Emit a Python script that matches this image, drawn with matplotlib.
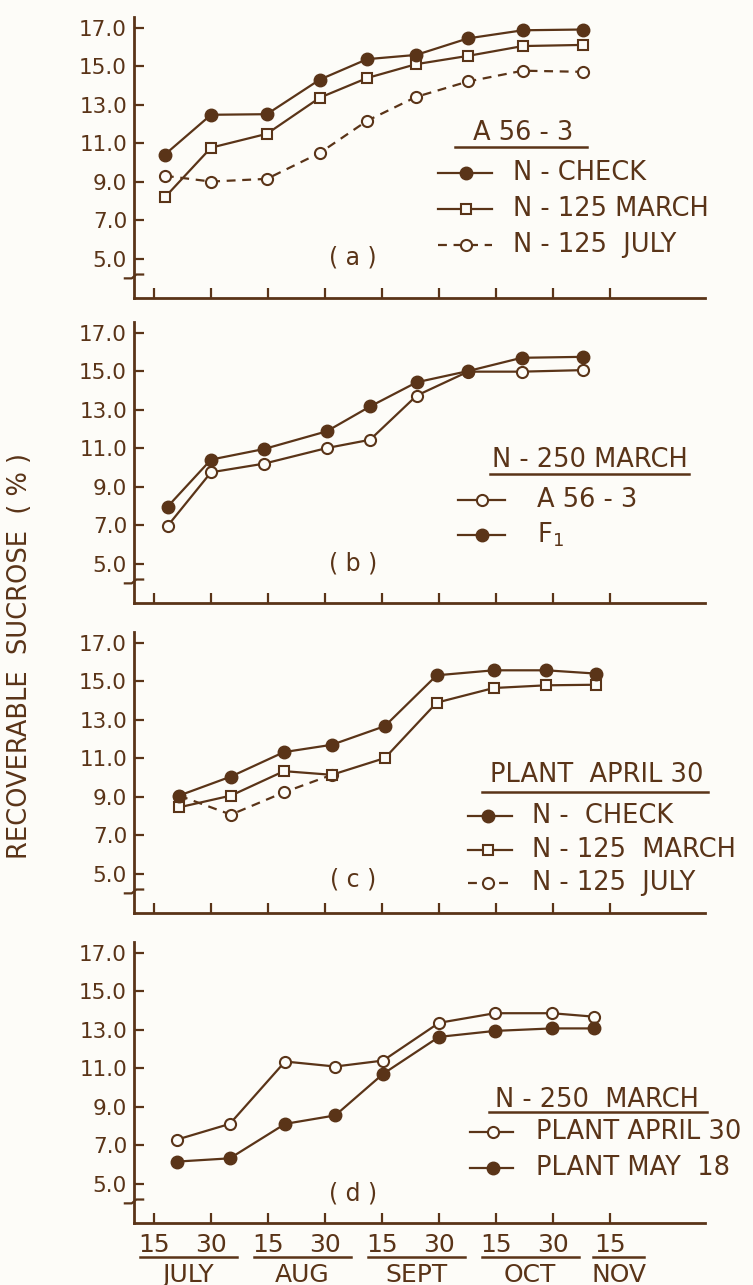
import numpy as np
import matplotlib.pyplot as plt
from matplotlib.lines import Line2D
from matplotlib.transforms import blended_transform_factory

# half-month tick positions: 15 JULY, 30 JULY, 15 AUG ... 15 NOV
ticks = np.arange(9)
tick_labels = ['15', '30', '15', '30', '15', '30', '15', '30', '15']
months = ['JULY', 'AUG', 'SEPT', 'OCT', 'NOV']
yticks = [5.0, 7.0, 9.0, 11.0, 13.0, 15.0, 17.0]

# (a) A 56-3
xa = [0.19, 1.0, 1.98, 2.91, 3.74, 4.60, 5.51, 6.47, 7.53]
a_check = [10.4, 12.47, 12.5, 14.3, 15.36, 15.58, 16.44, 16.86, 16.9]
a_march = [8.18, 10.76, 11.48, 13.36, 14.38, 15.1, 15.53, 16.04, 16.1]
a_july = [9.3, 9.0, 9.14, 10.49, 12.16, 13.4, 14.2, 14.76, 14.7]

# (b) N-250 March
xb = [0.24, 1.0, 1.93, 3.03, 3.79, 4.61, 5.51, 6.45, 7.53]
b_a563 = [6.96, 9.74, 10.19, 11.0, 11.43, 13.73, 14.97, 14.97, 15.05]
b_f1 = [7.96, 10.4, 10.95, 11.87, 13.16, 14.42, 15.0, 15.69, 15.74]

# (c) plant April 30
xc = [0.44, 1.35, 2.28, 3.12, 4.05, 4.96, 5.96, 6.88, 7.75]
c_check = [9.05, 10.04, 11.31, 11.69, 12.66, 15.3, 15.56, 15.56, 15.39]
c_march = [8.44, 9.05, 10.32, 10.13, 11.0, 13.88, 14.64, 14.78, 14.81]
c_july = [9.05, 8.06, 9.22, 10.13]

# (d) N-250 March
xd = [0.40, 1.33, 2.30, 3.18, 4.02, 5.00, 5.98, 6.98, 7.72]
d_apr30 = [7.28, 8.1, 11.34, 11.08, 11.39, 13.35, 13.85, 13.85, 13.67]
d_may18 = [6.14, 6.31, 8.1, 8.54, 10.7, 12.62, 12.93, 13.06, 13.06]

ink = '#5a3418'
bg = '#fdfcf8'
W, H = 753, 1285

plt.rcParams['font.family'] = ['DejaVu Sans']


def fx(px):
    return px / W


def fy(py):
    return 1 - py / H


styles = {
    'check': dict(marker='o', mfc=ink, mec=ink, ms=9, ls='-'),
    'march': dict(marker='s', mfc=bg, mec=ink, ms=7.5, mew=1.5, ls='-'),
    'open': dict(marker='o', mfc=bg, mec=ink, ms=8, mew=1.5, ls='-'),
    'july': dict(marker='o', mfc=bg, mec=ink, ms=8, mew=1.5, ls=(0, (4, 3))),
}

fig = plt.figure(figsize=(W / 100, H / 100), dpi=100, facecolor=bg)

bottoms = [298, 603, 913, 1223]
axs = []
for b in bottoms:
    ax = fig.add_axes([fx(134), fy(b), (705 - 134) / W, 281 / H])
    ax.set_facecolor('none')
    ax.set_xlim(-0.351, 9.667)
    ax.set_ylim(2.95, 17.55)
    for s in ['top', 'right']:
        ax.spines[s].set_visible(False)
    for s in ['left', 'bottom']:
        ax.spines[s].set_linewidth(2)
        ax.spines[s].set_color(ink)
    ax.set_yticks(yticks)
    ax.set_yticklabels(['%.1f' % v for v in yticks])
    ax.set_xticks(ticks)
    ax.set_xticklabels([])
    ax.tick_params(direction='in', length=7, width=1.6, color=ink,
                   labelcolor=ink, labelsize=15.5)
    ax.tick_params(axis='y', pad=5)
    # axis break mark
    tr = blended_transform_factory(ax.transAxes, ax.transData)
    ax.plot([-0.016, -0.004, 0.004, 0.016], [3.97, 3.97, 4.17, 4.17],
            color=ink, lw=1.6, transform=tr, clip_on=False)
    axs.append(ax)


def series(ax, x, y, st, z):
    ax.plot(x, y, color=ink, lw=1.6, zorder=z, clip_on=False, **styles[st])


series(axs[0], xa, a_july, 'july', 3)
series(axs[0], xa, a_march, 'march', 4)
series(axs[0], xa, a_check, 'check', 5)

series(axs[1], xb, b_a563, 'open', 4)
series(axs[1], xb, b_f1, 'check', 5)

series(axs[2], xc[:4], c_july, 'july', 3)
series(axs[2], xc, c_march, 'march', 4)
series(axs[2], xc, c_check, 'check', 5)

series(axs[3], xd, d_apr30, 'open', 4)
series(axs[3], xd, d_may18, 'check', 5)

# panel letters
for ax, lab, yy in zip(axs, ['a', 'b', 'c', 'd'], [5.03, 5.0, 4.7, 4.47]):
    ax.text(3.49, yy, '( %s )' % lab, ha='center', va='center',
            fontsize=17, color=ink)


# legends drawn in figure pixels
def legend(title, tx, ty, ul, keys, rows, textx, labels, ks):
    fig.text(fx(tx), fy(ty), title, ha='center', va='center',
             fontsize=18.5, color=ink)
    fig.add_artist(Line2D([fx(ul[0]), fx(ul[1])], [fy(ul[2]), fy(ul[2])],
                          color=ink, lw=1.8))
    for ry, lab, st in zip(rows, labels, ks):
        kw = dict(styles[st])
        fig.add_artist(Line2D([fx(keys[0]), fx(keys[1]), fx(keys[2])],
                              [fy(ry)] * 3, color=ink, lw=1.6,
                              markevery=[1], **kw))
        fig.text(fx(textx), fy(ry), lab, ha='left', va='center',
                 fontsize=18.5, color=ink)


legend('A 56 - 3', 523, 133, (455, 587, 147), (438, 466, 492),
       [173, 209, 245], 513,
       ['N - CHECK', 'N - 125 MARCH', 'N - 125  JULY'],
       ['check', 'march', 'july'])
legend('N - 250 MARCH', 590, 460, (490, 689, 474), (458, 482, 505),
       [500, 535], 537, ['A 56 - 3', 'F$_\\mathregular{1}$'],
       ['open', 'check'])
legend('PLANT  APRIL 30', 597, 775, (482, 708, 791.7), (468, 488, 512),
       [816, 850, 883], 532,
       ['N -  CHECK', 'N - 125  MARCH', 'N - 125  JULY'],
       ['check', 'march', 'july'])
legend('N - 250  MARCH', 597, 1100, (489, 707, 1111.7), (470, 493, 513),
       [1131.7, 1168], 536, ['PLANT APRIL 30', 'PLANT MAY  18'],
       ['open', 'check'])

# bottom date axis
axd = axs[3]
axd.set_xticklabels(tick_labels)
axd.tick_params(axis='x', pad=7, labelsize=18)
trd = blended_transform_factory(axd.transData, axd.transAxes)
for i, m in enumerate(months):
    x0 = 2 * i - 0.25
    x1 = 2 * i + 1.45 if i < 4 else 8.6
    if i == 4:
        x0 = 7.7
    axd.plot([x0, x1], [-0.121, -0.121], color=ink, lw=1.8,
             transform=trd, clip_on=False)
    axd.text((x0 + x1) / 2, -0.185, m, transform=trd, ha='center',
             va='center', fontsize=18, color=ink)

fig.text(fx(20), fy(656), 'RECOVERABLE  SUCROSE  ( % )', rotation=90,
         ha='center', va='center', fontsize=18.5, color=ink)

fig.savefig('out.png', dpi=100, facecolor=bg)
